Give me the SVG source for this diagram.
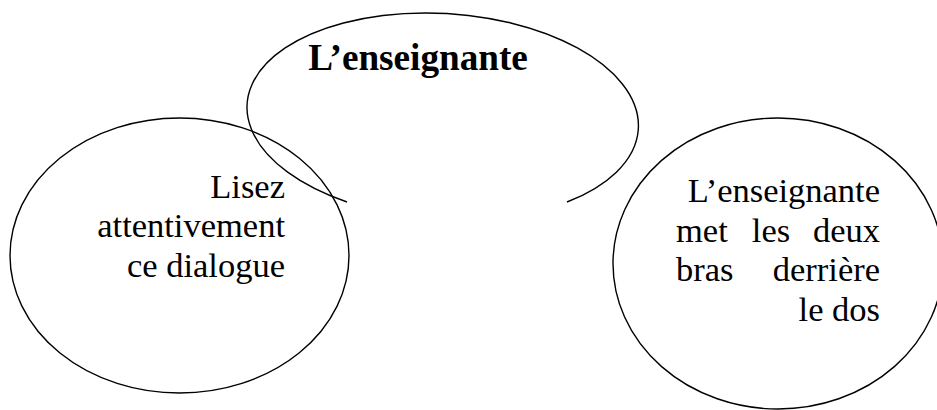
<svg xmlns="http://www.w3.org/2000/svg" width="937" height="410" viewBox="0 0 937 410">
  <style>
    .shape { fill: none; stroke: #000; stroke-width: 1.4; }
    .t { font-family: 'Liberation Serif', Tinos, 'Times New Roman', serif; font-size: 34.5px; fill: #000; }
    .title { font-family: 'Liberation Serif', Tinos, 'Times New Roman', serif; font-size: 37.2px; font-weight: bold; fill: #000; }
  </style>
  <rect width="937" height="410" fill="#fff"/>
  <g id="node-left">
    <ellipse class="shape" cx="179.5" cy="255.5" rx="169.5" ry="137.5"/>
    <text class="t" x="285" y="197.5" text-anchor="end">Lisez</text>
    <text class="t" x="285" y="237" text-anchor="end">attentivement</text>
    <text class="t" x="285" y="276.5" text-anchor="end">ce dialogue</text>
  </g>
  <g id="node-right">
    <ellipse class="shape" cx="778" cy="263.5" rx="165" ry="145.5"/>
    <text class="t" x="880" y="202" text-anchor="end">L’enseignante</text>
    <text class="t" x="676" y="241.5">met</text>
    <text class="t" x="771" y="241.5" text-anchor="middle">les</text>
    <text class="t" x="880" y="241.5" text-anchor="end">deux</text>
    <text class="t" x="676" y="281">bras</text>
    <text class="t" x="880" y="281" text-anchor="end">derrière</text>
    <text class="t" x="880" y="320.5" text-anchor="end">le dos</text>
  </g>
  <g id="node-top">
    <path class="shape" d="M347,202 A196,103 3.7 1 1 567,202"/>
    <text class="title" x="418" y="70" text-anchor="middle">L’enseignante</text>
  </g>
  <g id="connectors"/>
</svg>
